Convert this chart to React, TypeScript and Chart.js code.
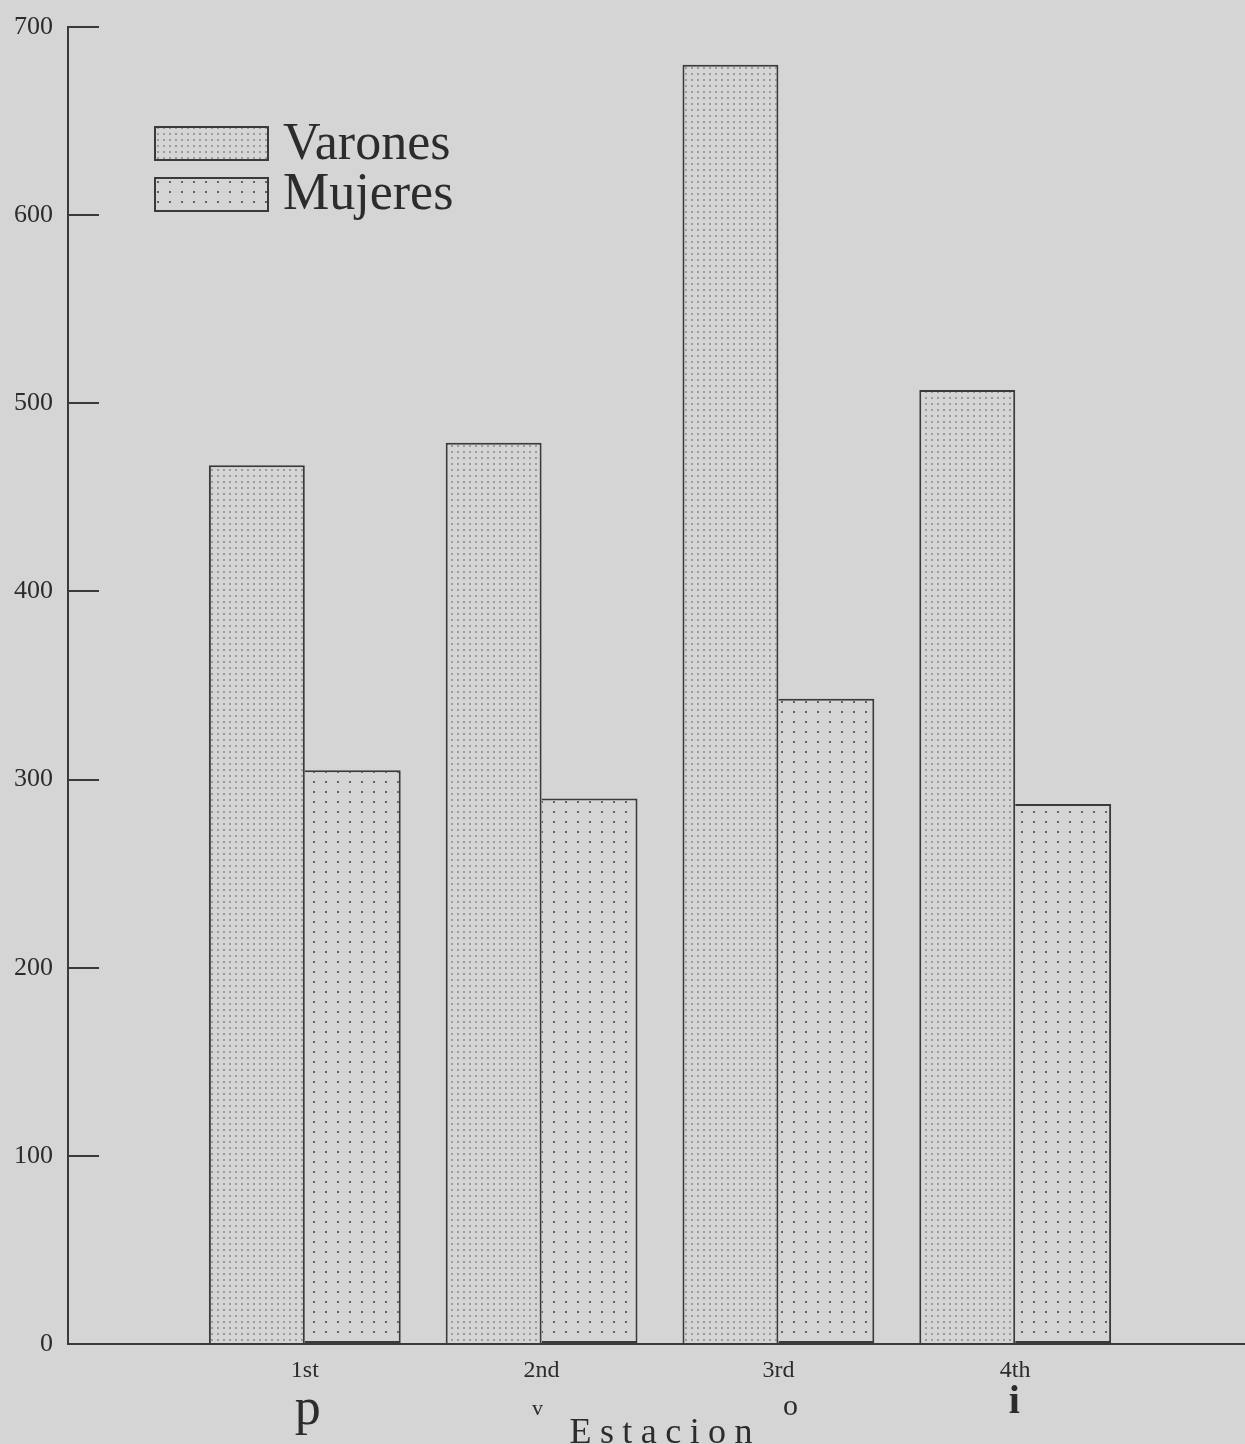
import React, { useEffect, useRef } from 'react';
import { Chart, registerables } from 'chart.js';

Chart.register(...registerables);

// ---- data ----
const categories = ['1st', '2nd', '3rd', '4th'];
const seriesNames = ['Varones', 'Mujeres'];
const varones = [467, 479, 680, 507];
const mujeres = [305, 290, 343, 287];
const seasonMarks = ['p', 'v', 'o', 'i'];
const xAxisTitle = 'Estacion';
const yMin = 0;
const yMax = 700;
const yStep = 100;

// ---- style ----
const BG = '#d5d5d5';
const INK = '#3a3a3a';
const TEXT = '#2c2c2c';
const SERIF = '"Liberation Serif", "Times New Roman", serif';
const CANVAS_W = 1252;
const CANVAS_H = 1444;

function makePattern(w: number, h: number, dot: number, dotColor: string) {
  const c = document.createElement('canvas');
  c.width = w;
  c.height = h;
  const g = c.getContext('2d')!;
  g.fillStyle = BG;
  g.fillRect(0, 0, w, h);
  g.fillStyle = dotColor;
  g.fillRect(1, 1, dot, dot);
  return g.createPattern(c, 'repeat')!;
}

const markStyles = [
  { dx: 3, y: 1424, font: `normal 52px ${SERIF}` },
  { dx: -4, y: 1415, font: `normal 22px ${SERIF}` },
  { dx: 12, y: 1415, font: `normal 30px ${SERIF}` },
  { dx: -1, y: 1413, font: `bold 40px ${SERIF}` },
];

const decorPlugin = {
  id: 'decor',
  afterDraw(chart: any) {
    const ctx: CanvasRenderingContext2D = chart.ctx;
    const xScale = chart.scales.x;
    ctx.save();
    // legend
    const boxX = 155, boxW = 113, boxH = 33;
    const boxYs = [127, 178];
    const textBase = [159, 209];
    chart.data.datasets.forEach((ds: any, i: number) => {
      ctx.fillStyle = ds.backgroundColor;
      ctx.fillRect(boxX, boxYs[i], boxW, boxH);
      ctx.strokeStyle = INK;
      ctx.lineWidth = 2;
      ctx.strokeRect(boxX, boxYs[i], boxW, boxH);
      ctx.fillStyle = TEXT;
      ctx.font = `normal 52px ${SERIF}`;
      ctx.textAlign = 'left';
      ctx.textBaseline = 'alphabetic';
      ctx.fillText(ds.label, 283, textBase[i]);
    });
    // season marks under category labels
    seasonMarks.forEach((m, i) => {
      const st = markStyles[i];
      const x = xScale.getPixelForValue(i + 1) + st.dx;
      ctx.font = st.font;
      ctx.textAlign = 'center';
      ctx.textBaseline = 'alphabetic';
      ctx.fillStyle = TEXT;
      ctx.fillText(m, x, st.y);
    });
    // axis title with letter spacing
    ctx.font = `normal 36px ${SERIF}`;
    ctx.textAlign = 'left';
    const chars = xAxisTitle.split('');
    const widths = chars.map((c) => ctx.measureText(c).width);
    const natural = widths.reduce((a, b) => a + b, 0);
    const targetW = 183;
    const gap = (targetW - natural) / (chars.length - 1);
    let cx = 661 - targetW / 2;
    chars.forEach((c, i) => {
      ctx.fillText(c, cx, 1443);
      cx += widths[i] + gap;
    });
    ctx.restore();
  },
};

export default function App() {
  const ref = useRef<HTMLCanvasElement | null>(null);

  useEffect(() => {
    if (!ref.current) return;
    const patV = makePattern(6, 6, 2, '#9c9c9c');
    const patM = makePattern(12, 10, 2, '#666666');
    const labels = ['', ...categories, ''];
    const chart = new Chart(ref.current, {
      type: 'bar',
      data: {
        labels,
        datasets: [
          {
            label: seriesNames[0],
            data: [null, ...varones, null],
            backgroundColor: patV as any,
            borderColor: INK,
            borderWidth: 2,
            categoryPercentage: 0.81,
            barPercentage: 1.0,
          },
          {
            label: seriesNames[1],
            data: [null, ...mujeres, null],
            backgroundColor: patM as any,
            borderColor: INK,
            borderWidth: 2,
            borderSkipped: 'left',
            categoryPercentage: 0.81,
            barPercentage: 1.0,
          },
        ],
      },
      options: {
        responsive: false,
        animation: false,
        layout: { padding: { top: 27, right: 0, bottom: 0, left: 0 } },
        plugins: {
          legend: { display: false },
          tooltip: { enabled: false },
          title: { display: false },
        },
        scales: {
          x: {
            type: 'category',
            offset: false,
            grid: { display: false, drawTicks: false },
            border: { display: true, color: INK, width: 2 },
            ticks: {
              autoSkip: false,
              maxRotation: 0,
              minRotation: 0,
              padding: 12,
              color: TEXT,
              font: { family: SERIF, size: 24 },
            },
            afterFit: (scale: any) => {
              scale.height = 100;
              scale.paddingLeft = 0;
              scale.paddingRight = 0;
            },
          },
          y: {
            min: yMin,
            max: yMax,
            grid: {
              display: true,
              drawOnChartArea: false,
              drawTicks: true,
              tickLength: -31,
              color: INK,
              lineWidth: 2,
            },
            border: { display: true, color: INK, width: 2 },
            ticks: {
              stepSize: yStep,
              padding: 46,
              color: TEXT,
              font: { family: SERIF, size: 26 },
            },
            afterFit: (scale: any) => {
              scale.width = 68;
              scale.paddingTop = 0;
              scale.paddingBottom = 0;
            },
          },
        },
      },
      plugins: [decorPlugin],
    });
    return () => chart.destroy();
  }, []);

  return (
    <div
      style={{
        position: 'absolute',
        left: 0,
        top: 0,
        width: 1245,
        height: 1444,
        background: BG,
        overflow: 'hidden',
      }}
    >
      <canvas ref={ref} width={CANVAS_W} height={CANVAS_H} style={{ display: 'block' }} />
    </div>
  );
}
